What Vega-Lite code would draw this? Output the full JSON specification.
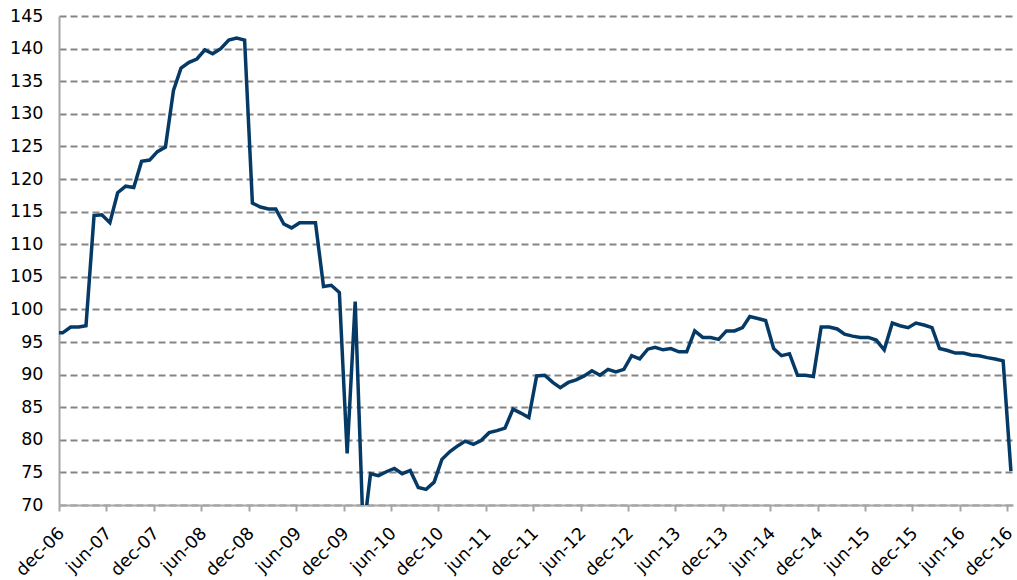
{
  "$schema": "https://vega.github.io/schema/vega-lite/v6.json",
  "width": 954,
  "height": 489,
  "autosize": {"type": "none"},
  "padding": {"left": 59, "top": 16, "right": 4, "bottom": 75},
  "background": "white",
  "config": {
    "view": {"stroke": null},
    "font": "DejaVu Sans",
    "axis": {"labelFont": "DejaVu Sans", "labelColor": "#000000", "labelFontSize": 17.5, "domainColor": "#a6a6a6", "domainWidth": 2, "tickColor": "#a6a6a6", "tickWidth": 2}
  },
  "data": {
    "values": [
      {"date": "2006-11-15", "v": 96.4},
      {"date": "2006-12-15", "v": 96.4},
      {"date": "2007-01-15", "v": 97.3},
      {"date": "2007-02-15", "v": 97.3},
      {"date": "2007-03-15", "v": 97.5},
      {"date": "2007-04-15", "v": 114.4},
      {"date": "2007-05-15", "v": 114.5},
      {"date": "2007-06-15", "v": 113.3},
      {"date": "2007-07-15", "v": 117.9},
      {"date": "2007-08-15", "v": 118.9},
      {"date": "2007-09-15", "v": 118.7},
      {"date": "2007-10-15", "v": 122.7},
      {"date": "2007-11-15", "v": 122.9},
      {"date": "2007-12-15", "v": 124.2},
      {"date": "2008-01-15", "v": 124.9},
      {"date": "2008-02-15", "v": 133.6},
      {"date": "2008-03-15", "v": 137.0},
      {"date": "2008-04-15", "v": 137.9},
      {"date": "2008-05-15", "v": 138.4},
      {"date": "2008-06-15", "v": 139.8},
      {"date": "2008-07-15", "v": 139.2},
      {"date": "2008-08-15", "v": 140.0},
      {"date": "2008-09-15", "v": 141.3},
      {"date": "2008-10-15", "v": 141.6},
      {"date": "2008-11-15", "v": 141.3},
      {"date": "2008-12-15", "v": 116.3},
      {"date": "2009-01-15", "v": 115.7},
      {"date": "2009-02-15", "v": 115.4},
      {"date": "2009-03-15", "v": 115.4},
      {"date": "2009-04-15", "v": 113.1},
      {"date": "2009-05-15", "v": 112.5},
      {"date": "2009-06-15", "v": 113.3},
      {"date": "2009-07-15", "v": 113.3},
      {"date": "2009-08-15", "v": 113.3},
      {"date": "2009-09-15", "v": 103.5},
      {"date": "2009-10-15", "v": 103.7},
      {"date": "2009-11-15", "v": 102.6},
      {"date": "2009-12-15", "v": 77.9},
      {"date": "2010-01-15", "v": 101.2},
      {"date": "2010-02-15", "v": 65.5},
      {"date": "2010-03-15", "v": 74.8},
      {"date": "2010-04-15", "v": 74.5},
      {"date": "2010-05-15", "v": 75.1},
      {"date": "2010-06-15", "v": 75.6},
      {"date": "2010-07-15", "v": 74.8},
      {"date": "2010-08-15", "v": 75.3},
      {"date": "2010-09-15", "v": 72.7},
      {"date": "2010-10-15", "v": 72.4},
      {"date": "2010-11-15", "v": 73.5},
      {"date": "2010-12-15", "v": 77.0},
      {"date": "2011-01-15", "v": 78.2},
      {"date": "2011-02-15", "v": 79.1},
      {"date": "2011-03-15", "v": 79.8},
      {"date": "2011-04-15", "v": 79.3},
      {"date": "2011-05-15", "v": 79.9},
      {"date": "2011-06-15", "v": 81.1},
      {"date": "2011-07-15", "v": 81.4},
      {"date": "2011-08-15", "v": 81.8},
      {"date": "2011-09-15", "v": 84.7},
      {"date": "2011-10-15", "v": 84.1},
      {"date": "2011-11-15", "v": 83.4},
      {"date": "2011-12-15", "v": 89.8},
      {"date": "2012-01-15", "v": 89.9},
      {"date": "2012-02-15", "v": 88.8},
      {"date": "2012-03-15", "v": 88.0},
      {"date": "2012-04-15", "v": 88.8},
      {"date": "2012-05-15", "v": 89.2},
      {"date": "2012-06-15", "v": 89.8},
      {"date": "2012-07-15", "v": 90.6},
      {"date": "2012-08-15", "v": 89.9},
      {"date": "2012-09-15", "v": 90.8},
      {"date": "2012-10-15", "v": 90.4},
      {"date": "2012-11-15", "v": 90.8},
      {"date": "2012-12-15", "v": 92.9},
      {"date": "2013-01-15", "v": 92.4},
      {"date": "2013-02-15", "v": 93.9},
      {"date": "2013-03-15", "v": 94.2},
      {"date": "2013-04-15", "v": 93.8},
      {"date": "2013-05-15", "v": 94.0},
      {"date": "2013-06-15", "v": 93.5},
      {"date": "2013-07-15", "v": 93.5},
      {"date": "2013-08-15", "v": 96.7},
      {"date": "2013-09-15", "v": 95.7},
      {"date": "2013-10-15", "v": 95.7},
      {"date": "2013-11-15", "v": 95.4},
      {"date": "2013-12-15", "v": 96.7},
      {"date": "2014-01-15", "v": 96.7},
      {"date": "2014-02-15", "v": 97.2},
      {"date": "2014-03-15", "v": 98.9},
      {"date": "2014-04-15", "v": 98.6},
      {"date": "2014-05-15", "v": 98.3},
      {"date": "2014-06-15", "v": 94.0},
      {"date": "2014-07-15", "v": 92.9},
      {"date": "2014-08-15", "v": 93.2},
      {"date": "2014-09-15", "v": 89.9},
      {"date": "2014-10-15", "v": 89.9},
      {"date": "2014-11-15", "v": 89.7},
      {"date": "2014-12-15", "v": 97.3},
      {"date": "2015-01-15", "v": 97.3},
      {"date": "2015-02-15", "v": 97.0},
      {"date": "2015-03-15", "v": 96.2},
      {"date": "2015-04-15", "v": 95.9},
      {"date": "2015-05-15", "v": 95.7},
      {"date": "2015-06-15", "v": 95.7},
      {"date": "2015-07-15", "v": 95.3},
      {"date": "2015-08-15", "v": 93.8},
      {"date": "2015-09-15", "v": 97.9},
      {"date": "2015-10-15", "v": 97.5},
      {"date": "2015-11-15", "v": 97.2},
      {"date": "2015-12-15", "v": 97.9},
      {"date": "2016-01-15", "v": 97.6},
      {"date": "2016-02-15", "v": 97.2},
      {"date": "2016-03-15", "v": 94.0},
      {"date": "2016-04-15", "v": 93.7},
      {"date": "2016-05-15", "v": 93.3},
      {"date": "2016-06-15", "v": 93.3},
      {"date": "2016-07-15", "v": 93.0},
      {"date": "2016-08-15", "v": 92.9},
      {"date": "2016-09-15", "v": 92.6},
      {"date": "2016-10-15", "v": 92.4},
      {"date": "2016-11-15", "v": 92.1},
      {"date": "2016-12-15", "v": 75.2}
    ]
  },
  "mark": {"type": "line", "clip": true, "color": "#063a66", "strokeWidth": 3.5, "strokeJoin": "miter", "interpolate": "linear"},
  "encoding": {
    "x": {
      "field": "date",
      "type": "temporal",
      "scale": {"type": "utc", "domain": [{"year": 2006, "month": 12, "date": 1, "utc": true}, {"year": 2016, "month": 12, "date": 23, "utc": true}], "nice": false},
      "axis": {
        "title": null,
        "grid": false,
        "values": [
          {"year": 2006, "month": 12, "date": 1, "utc": true},
          {"year": 2007, "month": 6, "date": 1, "utc": true},
          {"year": 2007, "month": 12, "date": 1, "utc": true},
          {"year": 2008, "month": 6, "date": 1, "utc": true},
          {"year": 2008, "month": 12, "date": 1, "utc": true},
          {"year": 2009, "month": 6, "date": 1, "utc": true},
          {"year": 2009, "month": 12, "date": 1, "utc": true},
          {"year": 2010, "month": 6, "date": 1, "utc": true},
          {"year": 2010, "month": 12, "date": 1, "utc": true},
          {"year": 2011, "month": 6, "date": 1, "utc": true},
          {"year": 2011, "month": 12, "date": 1, "utc": true},
          {"year": 2012, "month": 6, "date": 1, "utc": true},
          {"year": 2012, "month": 12, "date": 1, "utc": true},
          {"year": 2013, "month": 6, "date": 1, "utc": true},
          {"year": 2013, "month": 12, "date": 1, "utc": true},
          {"year": 2014, "month": 6, "date": 1, "utc": true},
          {"year": 2014, "month": 12, "date": 1, "utc": true},
          {"year": 2015, "month": 6, "date": 1, "utc": true},
          {"year": 2015, "month": 12, "date": 1, "utc": true},
          {"year": 2016, "month": 6, "date": 1, "utc": true},
          {"year": 2016, "month": 12, "date": 1, "utc": true}
        ],
        "labelExpr": "lower(utcFormat(datum.value, '%b-%y'))",
        "labelAngle": -45,
        "labelAlign": "right",
        "labelBaseline": "top",
        "labelPadding": 13,
        "labelOffset": -4,
        "tickSize": 6,
        "labelOverlap": false,
        "labelFlush": false
      }
    },
    "y": {
      "field": "v",
      "type": "quantitative",
      "scale": {"domain": [70, 145], "nice": false, "zero": false},
      "axis": {
        "title": null,
        "values": [70, 75, 80, 85, 90, 95, 100, 105, 110, 115, 120, 125, 130, 135, 140, 145],
        "ticks": false,
        "labelPadding": 16,
        "labelBaseline": "middle",
        "grid": true,
        "gridColor": "#858585",
        "gridWidth": 2,
        "gridDash": [7, 4],
        "labelOverlap": false,
        "labelFlush": false
      }
    }
  }
}
